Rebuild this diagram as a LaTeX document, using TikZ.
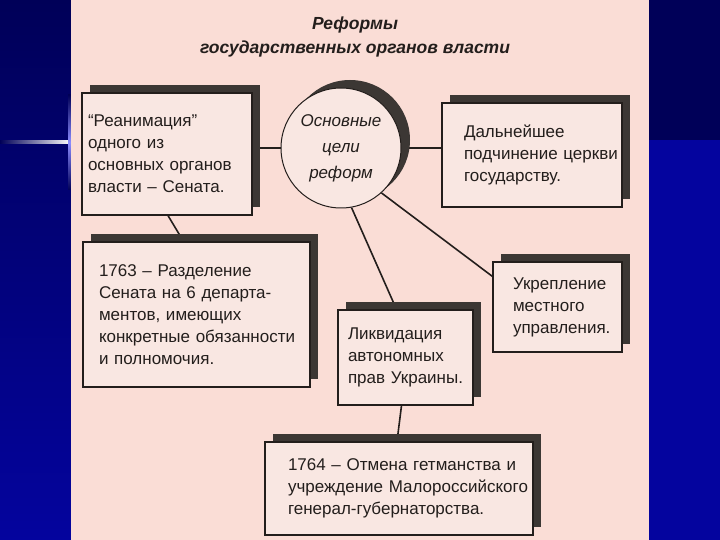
\documentclass[tikz,border=0pt]{standalone}
\usepackage{fontspec}
\setmainfont{Liberation Sans}
\usepackage{tikz}
\usetikzlibrary{positioning,backgrounds,calc,shadows}
\definecolor{navydark}{RGB}{0,0,88}
\definecolor{navylight}{RGB}{4,4,158}
\definecolor{paperpink}{RGB}{250,221,214}
\definecolor{boxpink}{RGB}{249,231,226}
\definecolor{shadowgray}{RGB}{60,55,52}
\definecolor{inkdark}{RGB}{35,30,28}
\tikzset{
  goalbox/.style={rectangle,draw=inkdark,line width=1.2pt,fill=boxpink,
    align=left,inner ysep=0pt,text=inkdark,font=\fontsize{17}{22}\selectfont,
    general shadow={fill=shadowgray,shadow xshift=8pt,shadow yshift=8pt}},
  goalcirc/.style={circle,draw=inkdark,line width=1pt,fill=boxpink,
    minimum size=120pt,inner sep=0pt,align=center,text=inkdark,
    font=\fontsize{17}{26}\selectfont\itshape,
    general shadow={fill=shadowgray,shadow xshift=9pt,shadow yshift=8pt}},
  goallink/.style={line width=1.6pt,color=inkdark},
  titletext/.style={font=\fontsize{17.5}{24}\selectfont\bfseries\itshape,
    align=center,text=inkdark},
}

\begin{document}
\begin{tikzpicture}[x=1pt,y=-1pt]
\useasboundingbox (0,0) rectangle (720,540);

%% ── slide backdrop ───────────────────────────────────────────────────────
\begin{scope}[on background layer]
\shade[top color=navydark,bottom color=navylight] (0,0) rectangle (71,540);
\fill[navydark] (649,0) rectangle (720,140);
\fill[navylight] (649,140) rectangle (720,540);
\shade[left color=navydark,right color=white] (0,141) rectangle (71,143.5);
\shade[top color=navydark,bottom color=navydark,middle color=blue!45!white]
  (68,95) rectangle (71,190);
\fill[paperpink] (71,0) rectangle (649,540);
\end{scope}

%% ── title ────────────────────────────────────────────────────────────────
\node[titletext] (ttl) at (355,37) {Реформы\\государственных органов власти};

%% ── centre ───────────────────────────────────────────────────────────────
\node[goalcirc] (goal) at (341,148) {Основные\\цели\\реформ};

%% ── upper row ────────────────────────────────────────────────────────────
\node[goalbox,text width=158pt,inner xsep=6pt,minimum height=122pt]
  (rea) at (167,154) {“Реанимация”\\одного из\\основных органов\\власти – Сената.};
\node[goalbox,text width=136pt,inner xsep=22pt,minimum height=104pt]
  (chur) at (532,155) {Дальнейшее\\\mbox{подчинение церкви}\\государству.};

%% ── lower boxes ──────────────────────────────────────────────────────────
\node[goalbox,text width=195pt,inner xsep=16pt,minimum height=145pt]
  (sen) at (196.5,314.5) {\mbox{1763 – Разделение}\\Сената на 6 департа-\\ментов, имеющих\\\mbox{конкретные обязанности}\\и полномочия.};
\node[goalbox,text width=89pt,inner xsep=20pt,minimum height=90pt]
  (loc) at (557.5,307) {Укрепление\\местного\\управления.};
\node[goalbox,text width=115pt,inner xsep=10pt,minimum height=95pt]
  (ukr) at (405.5,357.5) {Ликвидация\\автономных\\\mbox{прав Украины.}};
\node[goalbox,text width=222pt,inner xsep=23pt,minimum height=93pt]
  (het) at (399,488.5) {\mbox{1764 – Отмена гетманства и}\\\mbox{учреждение Малороссийского}\\генерал-губернаторства.};

%% ── links ────────────────────────────────────────────────────────────────
\begin{scope}[on background layer]
\draw[goallink] (goal.west) -- (goal.west -| rea.east);
\draw[goallink] (goal.east) -- (goal.east -| chur.west);
\draw[goallink] ([xshift=1pt]rea.south) -- ([xshift=-13pt]sen.north);
\draw[goallink] (goal.-80) -- ([xshift=-9pt]ukr.north);
\draw[goallink] (goal.-48) -- ([yshift=-15pt]loc.north west);
\draw[goallink] ([xshift=-4pt]ukr.south) -- ([xshift=-2pt]het.north);
\end{scope}

\end{tikzpicture}
\end{document}
